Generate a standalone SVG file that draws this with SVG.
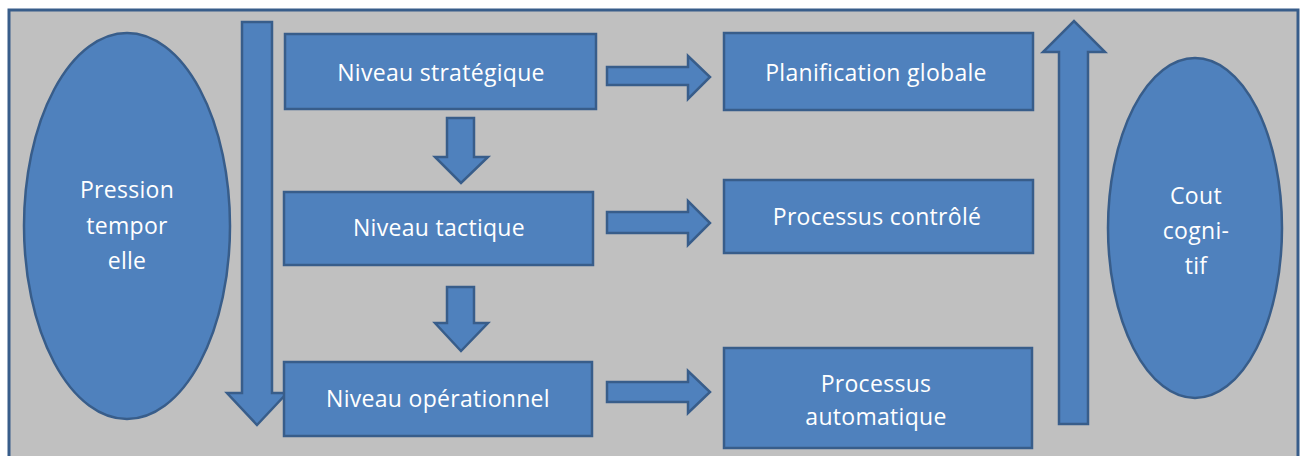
<svg xmlns="http://www.w3.org/2000/svg" width="1306" height="456" viewBox="0 0 1306 456">
<style>
.s{fill:#4F81BD;stroke:#385D8A;stroke-width:2.5;stroke-linejoin:miter}
.t{font-family:"Open Sans","Noto Sans",sans-serif;font-size:23px;fill:#FFFFFF;text-anchor:middle;letter-spacing:0.3px}
</style>
<rect width="1306" height="456" fill="#FFFFFF"/>
<rect x="9" y="10" width="1289" height="450" fill="#C0C0C0" stroke="#385D8A" stroke-width="3"/>
<g id="connectors">
<polygon class="s" points="242,22 272,22 272,393 287,393 257,425 227,393 242,393"/>
<polygon class="s" points="1059,424 1088,424 1088,52 1105,52 1074,21 1043,52 1059,52"/>
<polygon class="s" points="447,118 474,118 474,157 488,157 461,183 435,157 447,157"/>
<polygon class="s" points="447,287 474,287 474,323 488,323 461,351 435,323 447,323"/>
<polygon class="s" points="607,67 688,67 688,56 710,77 688,99 688,85 607,85"/>
<polygon class="s" points="607,212 688,212 688,201 710,223 688,245 688,233 607,233"/>
<polygon class="s" points="607,382 688,382 688,371 710,392 688,413 688,402 607,402"/>
</g>
<g id="pression">
<ellipse class="s" cx="127" cy="226" rx="103" ry="193"/>
<text class="t" x="127" y="198">Pression</text>
<text class="t" x="127" y="234">tempor</text>
<text class="t" x="127" y="269">elle</text>
</g>
<g id="cout">
<ellipse class="s" cx="1195" cy="228" rx="87" ry="170"/>
<text class="t" x="1196" y="204">Cout</text>
<text class="t" x="1196" y="239">cogni-</text>
<text class="t" x="1196" y="274">tif</text>
</g>
<g id="strategique">
<rect class="s" x="285" y="34" width="311" height="75"/>
<text class="t" x="441" y="81">Niveau stratégique</text>
</g>
<g id="tactique">
<rect class="s" x="284" y="192" width="309" height="73"/>
<text class="t" x="439" y="236">Niveau tactique</text>
</g>
<g id="operationnel">
<rect class="s" x="284" y="362" width="308" height="74"/>
<text class="t" x="438" y="407">Niveau opérationnel</text>
</g>
<g id="planification">
<rect class="s" x="724" y="33" width="309" height="77"/>
<text class="t" x="876" y="81">Planification globale</text>
</g>
<g id="controle">
<rect class="s" x="724" y="180" width="309" height="73"/>
<text class="t" x="877" y="225">Processus contrôlé</text>
</g>
<g id="automatique">
<rect class="s" x="724" y="348" width="308" height="100"/>
<text class="t" x="876" y="392">Processus</text>
<text class="t" x="876" y="425">automatique</text>
</g>
</svg>
